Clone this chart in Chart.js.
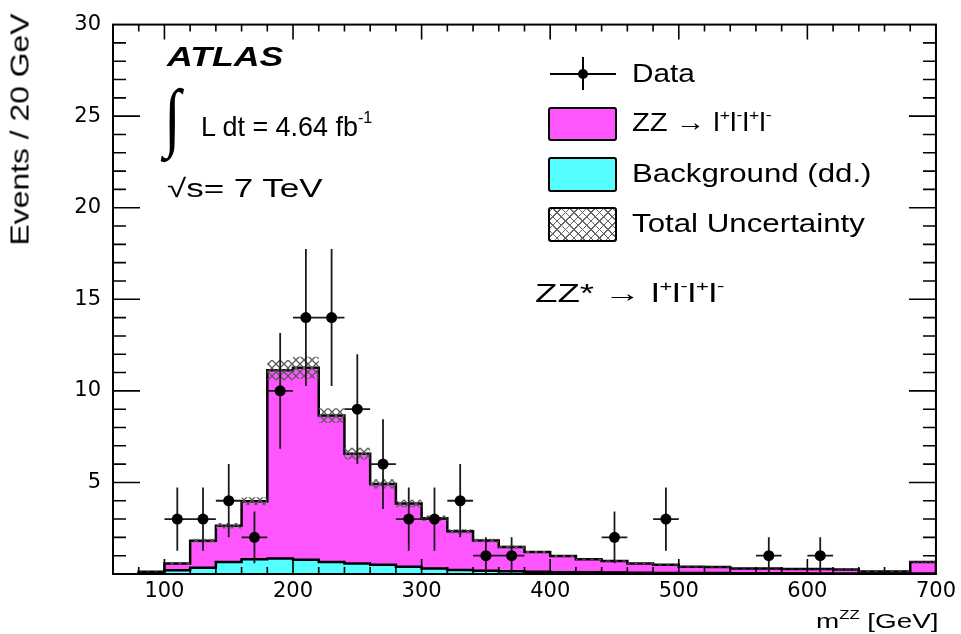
<!DOCTYPE html>
<html>
<head>
<meta charset="utf-8">
<script src="https://cdn.jsdelivr.net/npm/chart.js"></script>
<style>
  html, body { margin: 0; padding: 0; background: #fff; }
  #wrap { position: relative; width: 961px; height: 634px; overflow: hidden; }
  #c { position: absolute; left: 0; top: 0; }
  .t { position: absolute; font-family: "Liberation Sans", Arial, sans-serif; color: #000;
       white-space: nowrap; line-height: 1; transform-origin: 0 0; }
  .sup { font-size: 0.6em; position: relative; top: -0.75em; }
  .box { position: absolute; border: 2px solid #000; border-radius: 3px; box-sizing: border-box; }
  .hline, .vline { position: absolute; background: #000; }
</style>
</head>
<body>
<div id="wrap">
  <canvas id="c" width="961" height="634"></canvas>
</div>
<script>
// ZZ* -> 4l invariant mass, 20 GeV bins (left edges), last bin holds overflow
const binEdges = [80, 100, 120, 140, 160, 180, 200, 220, 240, 260, 280, 300, 320, 340, 360,
  380, 400, 420, 440, 460, 480, 500, 520, 540, 560, 580, 600, 620, 640, 660, 680];
const xMax = 700;

// ZZ -> llll expectation (on top of the background)
const zzSignal = [0.09, 0.37, 1.48, 1.97, 3.17, 10.28, 10.48, 7.99, 6.00, 4.42, 3.45, 2.74, 2.11, 1.65, 1.32,
  1.08, 0.88, 0.71, 0.63, 0.50, 0.44, 0.34, 0.33, 0.26, 0.26, 0.23, 0.24, 0.22, 0.11, 0.11, 0.63];
// data-driven background
const background = [0.03, 0.20, 0.34, 0.66, 0.80, 0.85, 0.78, 0.66, 0.57, 0.50, 0.40, 0.30, 0.22, 0.18, 0.15,
  0.12, 0.10, 0.09, 0.08, 0.07, 0.06, 0.05, 0.05, 0.04, 0.04, 0.04, 0.03, 0.03, 0.02, 0.02, 0.03];
// total uncertainty (+/-) on the stacked expectation
const totalUnc = [0.02, 0.05, 0.10, 0.15, 0.22, 0.55, 0.60, 0.40, 0.32, 0.25, 0.20, 0.15, 0.12, 0.10, 0.08,
  0.06, 0.05, 0.04, 0.04, 0.03, 0.03, 0.03, 0.03, 0.02, 0.02, 0.02, 0.02, 0.02, 0.02, 0.02, 0.04];

// observed events (bins with zero entries are not drawn)
const dataMass = [110, 130, 150, 170, 190, 210, 230, 250, 270, 290, 310, 330, 350, 370, 450, 490, 570, 610];
const dataEvents = [3, 3, 4, 2, 10, 14, 14, 9, 6, 3, 3, 4, 1, 1, 2, 3, 1, 1];
const dataErr = [1.73, 1.73, 2.0, 1.41, 3.16, 3.74, 3.74, 3.0, 2.45, 1.73, 1.73, 2.0, 1.0, 1.0, 1.41, 1.73, 1.0, 1.0];

const xTickLabels = [100, 200, 300, 400, 500, 600, 700];
const yTickLabels = [5, 10, 15, 20, 25, 30];

const TICK_FONT = '"DejaVu Sans", "Liberation Sans", sans-serif';
const MAGENTA = '#ff55ff';
const CYAN = '#55ffff';

const total = zzSignal.map((v, i) => v + background[i]);

// closed step outline for a histogram
function histPoints(vals) {
  const pts = [{ x: binEdges[0], y: 0 }];
  binEdges.forEach((e, i) => pts.push({ x: e, y: vals[i] }));
  pts.push({ x: xMax, y: vals[vals.length - 1] });
  pts.push({ x: xMax, y: 0 });
  return pts;
}
// open step line (for the band edges)
function stepPoints(vals) {
  const pts = binEdges.map((e, i) => ({ x: e, y: vals[i] }));
  pts.push({ x: xMax, y: vals[vals.length - 1] });
  return pts;
}

function hatchPattern() {
  const c = document.createElement('canvas');
  c.width = 8; c.height = 8;
  const g = c.getContext('2d');
  g.strokeStyle = '#5a5a5a';
  g.lineWidth = 1.3;
  g.beginPath();
  g.moveTo(0, 0); g.lineTo(8, 8);
  g.moveTo(8, 0); g.lineTo(0, 8);
  g.stroke();
  return g.createPattern(c, 'repeat');
}

const vBars = [];
const hBars = [];
dataMass.forEach((m, i) => {
  vBars.push({ x: m, y: dataEvents[i] - dataErr[i] }, { x: m, y: dataEvents[i] + dataErr[i] }, { x: m, y: null });
  hBars.push({ x: m - 10, y: dataEvents[i] }, { x: m + 10, y: dataEvents[i] }, { x: m, y: null });
});

// ROOT-style frame with inward ticks on all four sides
const frame = {
  id: 'frame',
  afterDatasetsDraw(chart) {
    const { ctx, chartArea: a, scales: { x, y } } = chart;
    ctx.save();
    ctx.strokeStyle = '#000';
    ctx.lineWidth = 1.6;
    ctx.beginPath();
    for (let v = 80; v < xMax; v += 20) {
      const px = x.getPixelForValue(v);
      const len = v % 100 === 0 ? 15 : 7;
      ctx.moveTo(px, a.bottom); ctx.lineTo(px, a.bottom - len);
      ctx.moveTo(px, a.top); ctx.lineTo(px, a.top + len);
    }
    for (let v = 1; v < 30; v++) {
      const py = y.getPixelForValue(v);
      const len = v % 5 === 0 ? 27 : 13;
      ctx.moveTo(a.left, py); ctx.lineTo(a.left + len, py);
      ctx.moveTo(a.right, py); ctx.lineTo(a.right - len, py);
    }
    ctx.stroke();
    ctx.lineWidth = 2;
    ctx.strokeRect(a.left, a.top, a.right - a.left, a.bottom - a.top);
    ctx.restore();
  }
};

const lineBase = { pointRadius: 0, stepped: true, tension: 0, borderJoinStyle: 'miter' };

new Chart(document.getElementById('c'), {
  type: 'line',
  data: {
    datasets: [
      { type: 'scatter', label: 'Data', data: dataMass.map((m, i) => ({ x: m, y: dataEvents[i] })),
        pointRadius: 5.5, pointBackgroundColor: '#000', pointBorderWidth: 0, showLine: false, order: 0 },
      { label: 'err-v', data: vBars, borderColor: '#1a1a1a', borderWidth: 1.8, pointRadius: 0, spanGaps: false, order: 1 },
      { label: 'err-h', data: hBars, borderColor: '#1a1a1a', borderWidth: 1.8, pointRadius: 0, spanGaps: false, order: 1 },
      { ...lineBase, label: 'Background (dd.)', data: histPoints(background), borderColor: '#000', borderWidth: 2.5,
        backgroundColor: CYAN, fill: 'origin', order: 2 },
      { ...lineBase, label: 'Total Uncertainty', data: stepPoints(total.map((v, i) => v + totalUnc[i])),
        borderWidth: 0, borderColor: 'rgba(0,0,0,0)', backgroundColor: hatchPattern(), fill: '+1', order: 3 },
      { ...lineBase, label: 'unc-low', data: stepPoints(total.map((v, i) => v - totalUnc[i])),
        borderWidth: 0, borderColor: 'rgba(0,0,0,0)', fill: false, order: 3 },
      { ...lineBase, label: 'ZZ', data: histPoints(total), borderColor: '#000', borderWidth: 2.5,
        backgroundColor: MAGENTA, fill: 'origin', order: 4 }
    ]
  },
  options: {
    responsive: false,
    animation: false,
    devicePixelRatio: 1,
    events: [],
    layout: { padding: { top: 16, right: 21, left: 0, bottom: 0 } },
    plugins: { legend: { display: false }, tooltip: { enabled: false } },
    scales: {
      x: {
        type: 'linear', min: 60, max: xMax,
        grid: { display: false, drawTicks: false },
        border: { display: false },
        afterBuildTicks: s => { s.ticks = xTickLabels.map(v => ({ value: v })); },
        afterFit: s => { s.height = 60; },
        ticks: { font: { family: TICK_FONT, size: 21 }, color: '#000', padding: 5, maxRotation: 0, autoSkip: false }
      },
      y: {
        min: 0, max: 30,
        grid: { display: false, drawTicks: false },
        border: { display: false },
        afterBuildTicks: s => { s.ticks = yTickLabels.map(v => ({ value: v })); },
        afterFit: s => { s.width = 113; },
        ticks: { font: { family: TICK_FONT, size: 21 }, color: '#000', padding: 12, autoSkip: false }
      }
    }
  },
  plugins: [frame]
});

// ---- text overlays (ROOT-style annotations and legend) ----
const wrap = document.getElementById('wrap');
function label(html, left, baseline, size, width, extra) {
  const el = document.createElement('div');
  el.className = 't';
  el.innerHTML = html;
  el.style.fontSize = size + 'px';
  el.style.left = left + 'px';
  el.style.top = (baseline - 0.8465 * size) + 'px';
  if (extra) Object.assign(el.style, extra);
  wrap.appendChild(el);
  if (width) el.style.transform = 'scaleX(' + (width / el.offsetWidth) + ')';
  return el;
}
function block(cls, left, top, w, h, bg) {
  const el = document.createElement('div');
  el.className = cls;
  Object.assign(el.style, { left: left + 'px', top: top + 'px', width: w + 'px', height: h + 'px' });
  if (bg) el.style.background = bg;
  wrap.appendChild(el);
  return el;
}

label('ATLAS', 167, 67, 28, 116, { fontWeight: 'bold', fontStyle: 'italic' });
label('\u222B', 164, 142, 76, 17, { fontFamily: '"Liberation Serif", serif' });
label('L dt = 4.64 fb<span class="sup">-1</span>', 201, 136, 28.5, 171);
label('\u221As= 7 TeV', 167, 198, 25.5, 155);

const ll = 'l<span class="sup">+</span>l<span class="sup">-</span>l<span class="sup">+</span>l<span class="sup">-</span>';
label('Data', 632, 83, 25.5, 63);
label('ZZ \u2192 ' + ll, 632, 132, 25.5, 140);
label('Background (dd.)', 632, 183, 25.5, 240);
label('Total Uncertainty', 632, 233, 25.5, 233);
label('ZZ* \u2192 ' + ll, 535, 303, 25.5, 190);

// legend symbols
block('hline', 550, 73, 66, 1.6);
block('vline', 582, 57, 1.6, 33);
const dot = block('vline', 578, 69, 10, 10);
dot.style.borderRadius = '50%';
block('box', 548, 107, 69, 34, MAGENTA);
block('box', 548, 157, 69, 35, CYAN);
block('box', 548, 207, 69, 35,
  'repeating-linear-gradient(45deg, #666 0 1px, transparent 1px 6px),' +
  'repeating-linear-gradient(-45deg, #666 0 1px, transparent 1px 6px), #fff');

// axis titles
label('m<span class="sup">ZZ</span> [GeV]', 816, 628, 21, 122);
const yt = label('Events / 20 GeV', 19.5, 129, 25);
const w = yt.offsetWidth, h = yt.offsetHeight;
Object.assign(yt.style, {
  left: (19.5 - w / 2) + 'px', top: (129 - h / 2) + 'px', transformOrigin: '50% 50%',
  transform: 'rotate(-90deg) scaleX(' + (232 / w) + ')'
});
</script>
</body>
</html>
